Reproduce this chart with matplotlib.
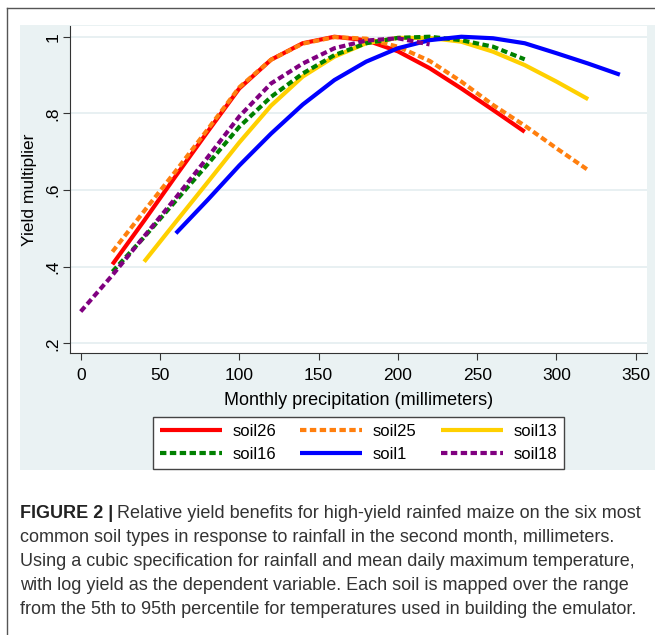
import numpy as np
import matplotlib
matplotlib.use("Agg")
import matplotlib.pyplot as plt
from matplotlib.lines import Line2D

plt.rcParams["font.family"] = ["Liberation Sans", "DejaVu Sans"]
plt.rcParams["lines.scale_dashes"] = False

# rainfall in the second month (mm), 20 mm steps
x26 = [20, 40, 60, 80, 100, 120, 140, 160, 180, 200, 220, 240, 260, 280]
y26 = [0.406, 0.520, 0.637, 0.752, 0.865, 0.940, 0.983, 1.000, 0.991, 0.962,
       0.918, 0.865, 0.809, 0.752]
x25 = [20, 40, 60, 80, 100, 120, 140, 160, 180, 200, 220, 240, 260, 280, 300, 320]
y25 = [0.439, 0.545, 0.650, 0.758, 0.868, 0.940, 0.982, 0.999, 0.995, 0.974,
       0.937, 0.883, 0.822, 0.768, 0.709, 0.652]
x13 = [40, 60, 80, 100, 120, 140, 160, 180, 200, 220, 240, 260, 280, 300, 320]
y13 = [0.413, 0.517, 0.620, 0.724, 0.820, 0.896, 0.948, 0.983, 0.997, 0.997,
       0.987, 0.961, 0.926, 0.883, 0.837]
x16 = [20, 40, 60, 80, 100, 120, 140, 160, 180, 200, 220, 240, 260, 280]
y16 = [0.387, 0.477, 0.572, 0.667, 0.765, 0.843, 0.904, 0.952, 0.983, 0.997,
       1.000, 0.991, 0.974, 0.941]
x1 = [60, 80, 100, 120, 140, 160, 180, 200, 220, 240, 260, 280, 300, 320, 340]
y1 = [0.487, 0.574, 0.664, 0.747, 0.823, 0.887, 0.935, 0.970, 0.991, 1.000,
      0.996, 0.983, 0.957, 0.930, 0.901]
x18 = [0, 20, 40, 60, 80, 100, 120, 140, 160, 180, 200, 220]
y18 = [0.283, 0.378, 0.479, 0.580, 0.685, 0.792, 0.878, 0.930, 0.970, 0.990,
       0.996, 0.980]

xticks = [0, 50, 100, 150, 200, 250, 300, 350]
yticks = [0.2, 0.4, 0.6, 0.8, 1.0]
ylabels = [".2", ".4", ".6", ".8", "1"]

caption = [
    "Relative yield benefits for high-yield rainfed maize on the six most",
    "common soil types in response to rainfall in the second month, millimeters.",
    "Using a cubic specification for rainfall and mean daily maximum temperature,",
    "with log yield as the dependent variable. Each soil is mapped over the range",
    "from the 5th to 95th percentile for temperatures used in building the emulator.",
]

W, H = 655, 635
fig = plt.figure(figsize=(W / 100, H / 100), dpi=100)
bg = "#eaf2f3"

# outer frame and stata graph region
fig.add_artist(Line2D([7 / W, 1], [1 - 8 / H, 1 - 8 / H], color="#555555", lw=1))
fig.add_artist(Line2D([7 / W, 7 / W], [0, 1 - 8 / H], color="#555555", lw=1))
fig.add_artist(plt.Rectangle((20 / W, 1 - 470 / H), 1, (470 - 25) / H,
                             color=bg, lw=0, zorder=-5))

ax = fig.add_axes([70 / W, 1 - 353 / H, (647 - 70) / W, (353 - 26) / H])
ax.set_facecolor("white")
ax.set_xlim(-6.75, 357.1)
ax.set_ylim(0.1748, 1.028)

dash = (0, (4.6, 2.5))
series = [
    (x26, y26, "soil26", "#ff0000", "-"),
    (x25, y25, "soil25", "#ff7f0e", dash),
    (x13, y13, "soil13", "#ffd000", "-"),
    (x16, y16, "soil16", "#008000", dash),
    (x1, y1, "soil1", "#0000ff", "-"),
    (x18, y18, "soil18", "#800080", dash),
]
handles = {}
for xs, ys, lab, col, ls in series:
    (h,) = ax.plot(xs, ys, color=col, lw=3, ls=ls, label=lab,
                   solid_capstyle="butt", dash_capstyle="butt",
                   solid_joinstyle="round")
    handles[lab] = h

ax.set_yticks(yticks)
ax.set_yticklabels(ylabels, rotation=90, va="center")
ax.set_xticks(xticks)
ax.grid(axis="y", color="#e4eef0", lw=1.2)
ax.set_axisbelow(True)
for s in ("top", "right"):
    ax.spines[s].set_visible(False)
for s in ("left", "bottom"):
    ax.spines[s].set_color("#333333")
ax.tick_params(length=5, color="#333333", labelsize=12.5)
ax.tick_params(axis="x", pad=6)
ax.tick_params(axis="y", pad=2)
ax.set_xlabel("Monthly precipitation (millimeters)", fontsize=13, labelpad=6)
ax.set_ylabel("Yield multiplier", fontsize=12.5, labelpad=6)

order = ["soil26", "soil16", "soil25", "soil1", "soil13", "soil18"]
leg = fig.legend([handles[k] for k in order], order, ncol=3, loc="center",
                 bbox_to_anchor=(358.5 / W, 1 - 443 / H), fontsize=12,
                 handlelength=3.7, handletextpad=0.65, columnspacing=1.45,
                 labelspacing=0.5, borderpad=0.4, fancybox=False,
                 framealpha=1, edgecolor="#444444")
leg.get_frame().set_linewidth(1.0)

# caption
fs = 13
ys = [514, 538, 562, 586, 610]
head = fig.text(20 / W, 1 - ys[0] / H, "FIGURE 2 |", fontsize=fs,
                fontweight="bold", va="center", color="#222222")
fig.canvas.draw()
bb = head.get_window_extent()
fig.text((bb.x1 + 4) / W, 1 - ys[0] / H, caption[0], fontsize=fs,
         va="center", color="#333333")
for yy, line in zip(ys[1:], caption[1:]):
    fig.text(20 / W, 1 - yy / H, line, fontsize=fs, va="center", color="#333333")

plt.savefig("out.png", dpi=100)
